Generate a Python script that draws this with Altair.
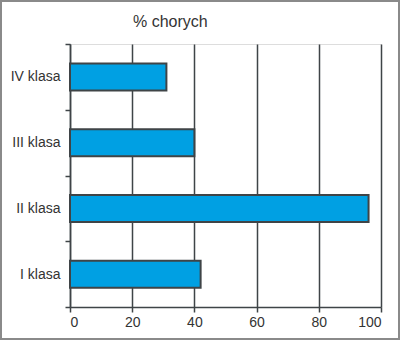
import altair as alt
import pandas as pd

categories = ["IV klasa", "III klasa", "II klasa", "I klasa"]
values = [31, 40, 96, 42]
title_text = "% chorych"

df = pd.DataFrame({"klasa": categories, "pct": values})

FONT = "Liberation Sans"
DARK = "#3f4447"

bars = alt.Chart(df).mark_bar(
    color="#00a0e3", stroke=DARK, strokeWidth=2, size=27
).encode(
    x=alt.X("pct:Q", scale=alt.Scale(domain=[0, 100], nice=False),
            axis=alt.Axis(values=[0, 20, 40, 60, 80, 100], title=None,
                          grid=True, gridColor=DARK, gridWidth=1.5, gridOpacity=1,
                          domainColor=DARK, domainWidth=1.5,
                          tickColor=DARK, tickSize=5, tickWidth=1.5,
                          labelFontSize=14, labelColor="#333333", labelFont=FONT,
                          labelPadding=3)),
    y=alt.Y("klasa:N", sort=categories,
            scale=alt.Scale(paddingInner=0, paddingOuter=0),
            axis=alt.Axis(title=None, tickBand="extent", grid=False,
                          domainColor=DARK, domainWidth=1.5,
                          tickColor=DARK, tickSize=5, tickWidth=1.5,
                          labelFontSize=14, labelColor="#333333", labelFont=FONT,
                          labelPadding=5)),
)

frame = alt.Chart(df).mark_rect(
    fill=None, stroke="#8a8a8a", strokeWidth=2, clip=False
).encode(
    x=alt.value(-69), x2=alt.value(329), y=alt.value(-43), y2=alt.value(295)
).transform_filter(alt.datum.klasa == "I klasa")

chart = alt.layer(bars, frame).properties(
    width=311, height=263,
    title=alt.TitleParams(title_text, anchor="start", frame="group", dx=63, dy=30, offset=0,
                          fontSize=16, font=FONT, fontWeight="normal", color="#333333"),
    autosize=alt.AutoSizeParams(type="none"),
    padding={"left": 70, "top": 44, "right": 19, "bottom": 33},
).configure_view(stroke=DARK, strokeWidth=1.5).configure(background="white")

chart.save("out.html", embed_options={"renderer": "svg", "actions": False})
